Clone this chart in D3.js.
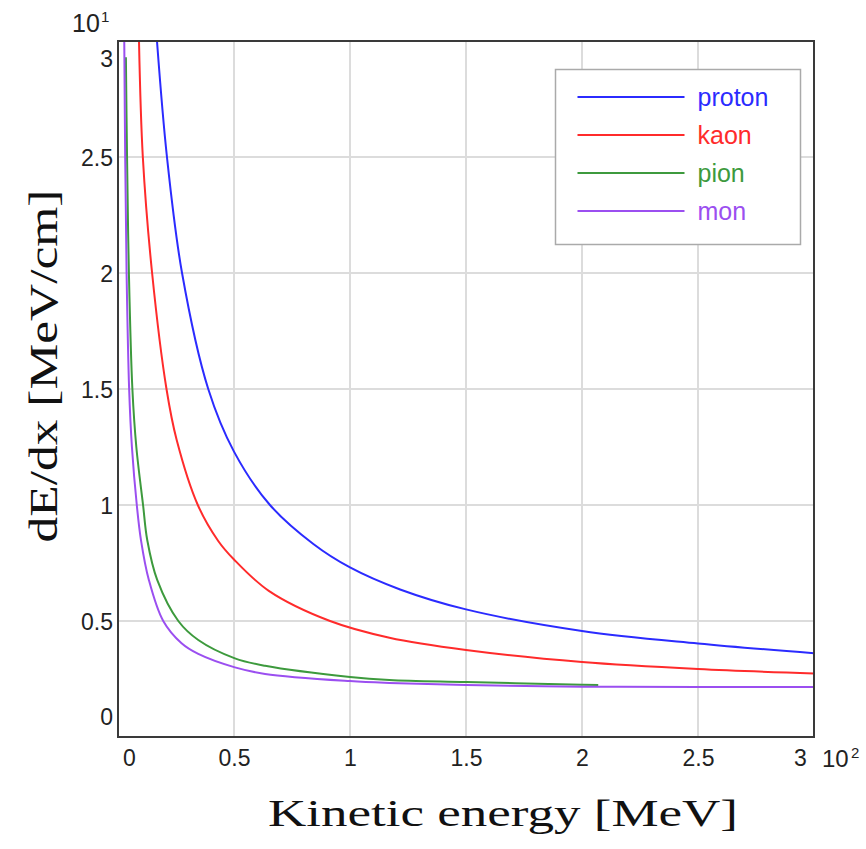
<!DOCTYPE html>
<html>
<head>
<meta charset="utf-8">
<script src="https://cdn.jsdelivr.net/npm/d3@7"></script>
<style>
  body { margin: 0; background: #fff; }
  svg { display: block; }
</style>
</head>
<body>
<svg width="866" height="849"></svg>
<script>
// Kinetic energy [MeV] and stopping power [MeV/cm]
let protonE = [16.8, 21.1, 27.6, 38.9, 50, 65.5, 84.2, 100, 121.6, 150, 200, 250, 300];
let protonDE = [30, 25, 20, 15, 12.3, 10, 8.32, 7.31, 6.36, 5.5, 4.57, 4.03, 3.61];

let kaonE = [9.05, 10.7, 14.7, 20.9, 25.3, 34.4, 43.2, 50, 65, 91.4, 117, 150, 200, 250, 300];
let kaonDE = [30, 25, 20, 15, 12.8, 10, 8.45, 7.65, 6.3, 5.0, 4.28, 3.75, 3.23, 2.93, 2.74];

let pionE = [3.4, 3.9, 4.7, 6.2, 7.9, 10.8, 12.6, 16.9, 26, 34.6, 50.4, 63.4, 100, 117, 150, 200, 207];
let pionDE = [29.3, 25, 20, 15, 12.5, 10, 8.49, 6.77, 5.0, 4.18, 3.39, 3.07, 2.59, 2.46, 2.37, 2.25, 2.24];

let monE = [2.7, 3.1, 3.7, 4.8, 6.0, 8.1, 9.9, 13.3, 19.5, 27.4, 34.6, 50.4, 63.4, 100, 117, 150, 200, 250, 300];
let monDE = [30, 25, 20, 15, 12.5, 10, 8.49, 6.77, 5.0, 4.04, 3.58, 3.0, 2.72, 2.41, 2.33, 2.24, 2.17, 2.16, 2.16];

let names = ["proton", "kaon", "pion", "mon"];
let colors = ["#2b2bff", "#ff2b2b", "#3d9a3d", "#9b4ff0"];

let xTicks = [0, 50, 100, 150, 200, 250, 300];
let yTicks = [0, 5, 10, 15, 20, 25, 30];

var svg = d3.select("svg"),
  plotL = 118, plotT = 41, plotR = 814, plotB = 737;

var x = d3.scaleLinear().domain([0, 300]).range([plotL, plotR]);
var y = d3.scaleLinear().domain([0, 30]).range([plotB, plotT]);

var tickFont = "'Liberation Sans', Arial, sans-serif";
var serif = "'Liberation Serif', 'Times New Roman', serif";

// grid lines
svg.append("g")
  .selectAll("line")
  .data(xTicks.slice(1, -1))
  .enter()
  .append("line")
  .attr("x1", d => x(d)).attr("x2", d => x(d))
  .attr("y1", plotT).attr("y2", plotB)
  .attr("stroke", "#dcdcdc")
  .attr("stroke-width", 2);

svg.append("g")
  .selectAll("line")
  .data(yTicks.slice(1, -1))
  .enter()
  .append("line")
  .attr("x1", plotL).attr("x2", plotR)
  .attr("y1", d => y(d)).attr("y2", d => y(d))
  .attr("stroke", "#dcdcdc")
  .attr("stroke-width", 2);

// tick labels through axes, then nudge the end ones inwards
var xAxis = svg.append("g")
  .attr("transform", "translate(0," + plotB + ")")
  .call(d3.axisBottom(x).tickValues(xTicks).tickSize(0).tickPadding(0).tickFormat(d => String(d / 100)));
xAxis.select(".domain").remove();
xAxis.selectAll("text")
  .attr("font-family", tickFont)
  .style("font-size", "23px")
  .attr("fill", "#222")
  .attr("dy", null)
  .attr("y", 29)
  .attr("x", d => d == 0 ? 11 : (d == 300 ? -14 : 0));

var yAxis = svg.append("g")
  .attr("transform", "translate(" + plotL + ",0)")
  .call(d3.axisLeft(y).tickValues(yTicks).tickSize(0).tickPadding(0).tickFormat(d => String(d / 10)));
yAxis.select(".domain").remove();
yAxis.selectAll("text")
  .attr("font-family", tickFont)
  .style("font-size", "23px")
  .attr("fill", "#222")
  .attr("x", -5)
  .attr("dy", "0.35em")
  .attr("y", d => d == 0 ? -21 : (d == 30 ? 17 : 0));

// exponent labels
svg.append("text").attr("x", 72).attr("y", 32)
  .attr("font-family", tickFont).style("font-size", "25px").attr("fill", "#222").text("10");
svg.append("text").attr("x", 101).attr("y", 22)
  .attr("font-family", tickFont).style("font-size", "15px").attr("fill", "#222").text("1");
svg.append("text").attr("x", 822).attr("y", 767)
  .attr("font-family", tickFont).style("font-size", "24px").attr("fill", "#222").text("10");
svg.append("text").attr("x", 851).attr("y", 758)
  .attr("font-family", tickFont).style("font-size", "15px").attr("fill", "#222").text("2");

// curves
svg.append("clipPath").attr("id", "plot")
  .append("rect").attr("x", plotL).attr("y", plotT).attr("width", plotR - plotL).attr("height", plotB - plotT);

var series = [
  d3.zip(protonE, protonDE),
  d3.zip(kaonE, kaonDE),
  d3.zip(pionE, pionDE),
  d3.zip(monE, monDE)
];

var line = d3.line()
  .x(d => x(d[0]))
  .y(d => y(d[1]))
  .curve(d3.curveCatmullRom.alpha(0.5));

svg.append("g")
  .attr("clip-path", "url(#plot)")
  .selectAll("path")
  .data(series)
  .enter()
  .append("path")
  .attr("fill", "none")
  .attr("stroke", (d, i) => colors[i])
  .attr("stroke-width", 2)
  .attr("d", line);

// frame
svg.append("rect")
  .attr("x", plotL).attr("y", plotT)
  .attr("width", plotR - plotL).attr("height", plotB - plotT)
  .attr("fill", "none")
  .attr("stroke", "#3a3a3a")
  .attr("stroke-width", 2);

// legend
var legend = svg.append("g").attr("transform", "translate(555.5,69.5)");
legend.append("rect")
  .attr("width", 245).attr("height", 175)
  .attr("fill", "#fff")
  .attr("stroke", "#aaa")
  .attr("stroke-width", 1.5);

var items = legend.selectAll("g.item")
  .data(names)
  .enter()
  .append("g")
  .attr("class", "item")
  .attr("transform", (d, i) => "translate(0," + (27.5 + i * 38) + ")");

items.append("line")
  .attr("x1", 22).attr("x2", 129)
  .attr("stroke", (d, i) => colors[i])
  .attr("stroke-width", 2);

items.append("text")
  .attr("x", 142)
  .attr("dy", "0.35em")
  .attr("font-family", tickFont)
  .style("font-size", "25px")
  .attr("fill", (d, i) => colors[i])
  .text(d => d);

// axis titles
svg.append("text")
  .attr("x", 503).attr("y", 826)
  .attr("text-anchor", "middle")
  .attr("font-family", serif)
  .style("font-size", "37px")
  .attr("fill", "#111")
  .attr("textLength", 470)
  .attr("lengthAdjust", "spacingAndGlyphs")
  .text("Kinetic energy [MeV]");

svg.append("text")
  .attr("transform", "translate(57,366) rotate(-90)")
  .attr("text-anchor", "middle")
  .attr("font-family", serif)
  .style("font-size", "40px")
  .attr("fill", "#111")
  .attr("textLength", 353)
  .attr("lengthAdjust", "spacingAndGlyphs")
  .text("dE/dx [MeV/cm]");
</script>
</body>
</html>
